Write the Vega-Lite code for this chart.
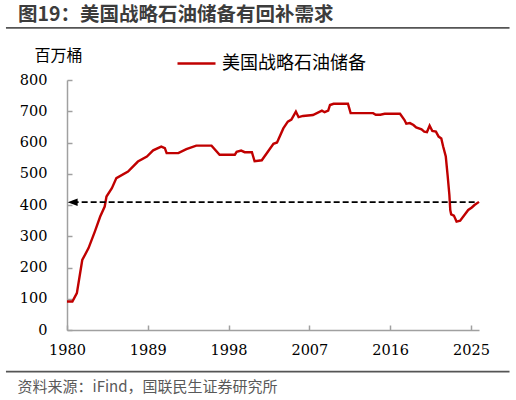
{
  "$schema": "https://vega.github.io/schema/vega-lite/v6.json",
  "width": 412,
  "height": 250,
  "autosize": "none",
  "padding": {"left": 67, "top": 80, "right": 37, "bottom": 70},
  "background": "white",
  "title": {
    "text": "图19：美国战略石油储备有回补需求",
    "anchor": "start",
    "frame": "group",
    "font": "Noto Sans CJK SC",
    "fontSize": 19.5,
    "fontWeight": "bold",
    "color": "#3c3c3c",
    "dx": -49,
    "offset": 1
  },
  "config": {
    "view": {"stroke": null},
    "axis": {
      "grid": false,
      "domainColor": "#a0a0a0",
      "tickColor": "#a0a0a0",
      "domainWidth": 1.5,
      "tickWidth": 1.5,
      "tickSize": -5,
      "labelFont": "DejaVu Serif",
      "labelFontSize": 14.5,
      "labelColor": "#000000",
      "labelOverlap": false,
      "zindex": 0
    }
  },
  "datasets": {
    "spr": [
      {"year": 1980.0, "value": 91},
      {"year": 1980.6, "value": 91},
      {"year": 1981.1, "value": 118},
      {"year": 1981.7, "value": 224},
      {"year": 1982.4, "value": 262},
      {"year": 1983.1, "value": 315},
      {"year": 1983.7, "value": 363},
      {"year": 1984.2, "value": 395},
      {"year": 1984.4, "value": 427},
      {"year": 1985.0, "value": 454},
      {"year": 1985.5, "value": 486},
      {"year": 1986.8, "value": 507},
      {"year": 1987.9, "value": 539},
      {"year": 1988.9, "value": 555},
      {"year": 1989.6, "value": 575},
      {"year": 1990.5, "value": 587},
      {"year": 1990.9, "value": 582},
      {"year": 1991.1, "value": 566},
      {"year": 1992.4, "value": 566},
      {"year": 1993.3, "value": 579},
      {"year": 1994.4, "value": 590},
      {"year": 1996.1, "value": 590},
      {"year": 1997.0, "value": 561},
      {"year": 1998.7, "value": 561},
      {"year": 1998.9, "value": 570},
      {"year": 1999.4, "value": 574},
      {"year": 1999.8, "value": 569},
      {"year": 2000.6, "value": 569},
      {"year": 2000.9, "value": 540},
      {"year": 2001.7, "value": 543},
      {"year": 2003.0, "value": 596},
      {"year": 2003.4, "value": 600},
      {"year": 2004.1, "value": 645},
      {"year": 2004.6, "value": 667},
      {"year": 2005.0, "value": 673},
      {"year": 2005.5, "value": 699},
      {"year": 2005.8, "value": 681},
      {"year": 2006.3, "value": 685},
      {"year": 2007.4, "value": 688},
      {"year": 2008.4, "value": 702},
      {"year": 2008.7, "value": 697},
      {"year": 2009.1, "value": 702},
      {"year": 2009.3, "value": 720},
      {"year": 2009.7, "value": 724},
      {"year": 2011.3, "value": 724},
      {"year": 2011.6, "value": 694},
      {"year": 2014.1, "value": 694},
      {"year": 2014.4, "value": 689},
      {"year": 2014.9, "value": 689},
      {"year": 2015.4, "value": 692},
      {"year": 2017.1, "value": 692},
      {"year": 2017.6, "value": 672},
      {"year": 2017.8, "value": 660},
      {"year": 2018.2, "value": 662},
      {"year": 2018.6, "value": 656},
      {"year": 2018.9, "value": 648},
      {"year": 2019.5, "value": 642},
      {"year": 2019.8, "value": 635},
      {"year": 2020.1, "value": 633},
      {"year": 2020.2, "value": 640},
      {"year": 2020.4, "value": 654},
      {"year": 2020.7, "value": 637},
      {"year": 2021.1, "value": 635},
      {"year": 2021.4, "value": 619},
      {"year": 2021.7, "value": 613},
      {"year": 2021.9, "value": 588},
      {"year": 2022.2, "value": 555},
      {"year": 2022.4, "value": 496},
      {"year": 2022.6, "value": 432},
      {"year": 2022.7, "value": 384},
      {"year": 2022.8, "value": 370},
      {"year": 2023.1, "value": 366},
      {"year": 2023.4, "value": 347},
      {"year": 2023.8, "value": 350},
      {"year": 2024.7, "value": 384},
      {"year": 2025.1, "value": 392},
      {"year": 2025.4, "value": 400},
      {"year": 2025.9, "value": 410}
    ],
    "level": [
      {"year": 1980.63, "year2": 2025.45, "value": 409}
    ],
    "frame": [
      {"year": 1973.2, "year2": 2029.3, "value": 970, "value2": 964},
      {"year": 1973.2, "year2": 2029.3, "value": -130, "value2": -136}
    ]
  },
  "encoding": {
    "x": {
      "field": "year",
      "type": "quantitative",
      "scale": {"domain": [1980, 2025.9], "nice": false, "zero": false},
      "axis": {
        "values": [1980, 1989, 1998, 2007, 2016, 2025],
        "format": "d",
        "labelFont": "DejaVu Serif",
        "labelPadding": 18,
        "labelFlush": false,
        "labelOverlap": false,
        "title": "资料来源：iFind，国联民生证券研究所",
        "titleFont": "Noto Sans CJK SC",
        "titleFontSize": 15,
        "titleFontWeight": "normal",
        "titleColor": "#595959",
        "titleAnchor": "start",
        "titleAlign": "left",
        "titleBaseline": "middle",
        "titleX": -50,
        "titleY": 56
      }
    },
    "y": {
      "field": "value",
      "type": "quantitative",
      "scale": {"domain": [0, 800], "nice": false},
      "axis": {
        "values": [0, 100, 200, 300, 400, 500, 600, 700, 800],
        "labelFont": "DejaVu Serif",
        "labelOverlap": false,
        "labelPadding": 25,
        "title": "百万桶",
        "titleFont": "Noto Sans CJK SC",
        "titleFontSize": 16,
        "titleFontWeight": "normal",
        "titleColor": "#000000",
        "titleAngle": 0,
        "titleAlign": "center",
        "titleBaseline": "middle",
        "titleX": -9,
        "titleY": -25
      }
    }
  },
  "layer": [
    {
      "data": {"name": "frame"},
      "mark": {"type": "rect", "color": "#555555", "clip": false},
      "encoding": {
        "x2": {"field": "year2"},
        "y2": {"field": "value2"}
      }
    },
    {
      "data": {"name": "spr"},
      "transform": [{"calculate": "'美国战略石油储备'", "as": "series"}],
      "mark": {"type": "line", "strokeWidth": 2.4, "clip": false},
      "encoding": {
        "color": {
          "field": "series",
          "type": "nominal",
          "scale": {"domain": ["美国战略石油储备"], "range": ["#C00000"]},
          "legend": {
            "orient": "none",
            "legendX": 109,
            "legendY": -37,
            "title": null,
            "symbolType": "stroke",
            "symbolSize": 1444,
            "symbolStrokeWidth": 2.5,
            "labelFont": "Noto Sans CJK SC",
            "labelFontSize": 18,
            "labelColor": "#000000",
            "labelOffset": 5
          }
        }
      }
    },
    {
      "data": {"name": "level"},
      "mark": {"type": "rule", "strokeDash": [6, 3], "strokeWidth": 1.8, "color": "#000000"},
      "encoding": {
        "x2": {"field": "year2"}
      }
    },
    {
      "data": {"name": "level"},
      "mark": {"type": "point", "shape": "M -1 0 L 1 -0.75 L 1 0.75 Z", "filled": true, "color": "#000000", "opacity": 1, "size": 100}
    }
  ]
}
